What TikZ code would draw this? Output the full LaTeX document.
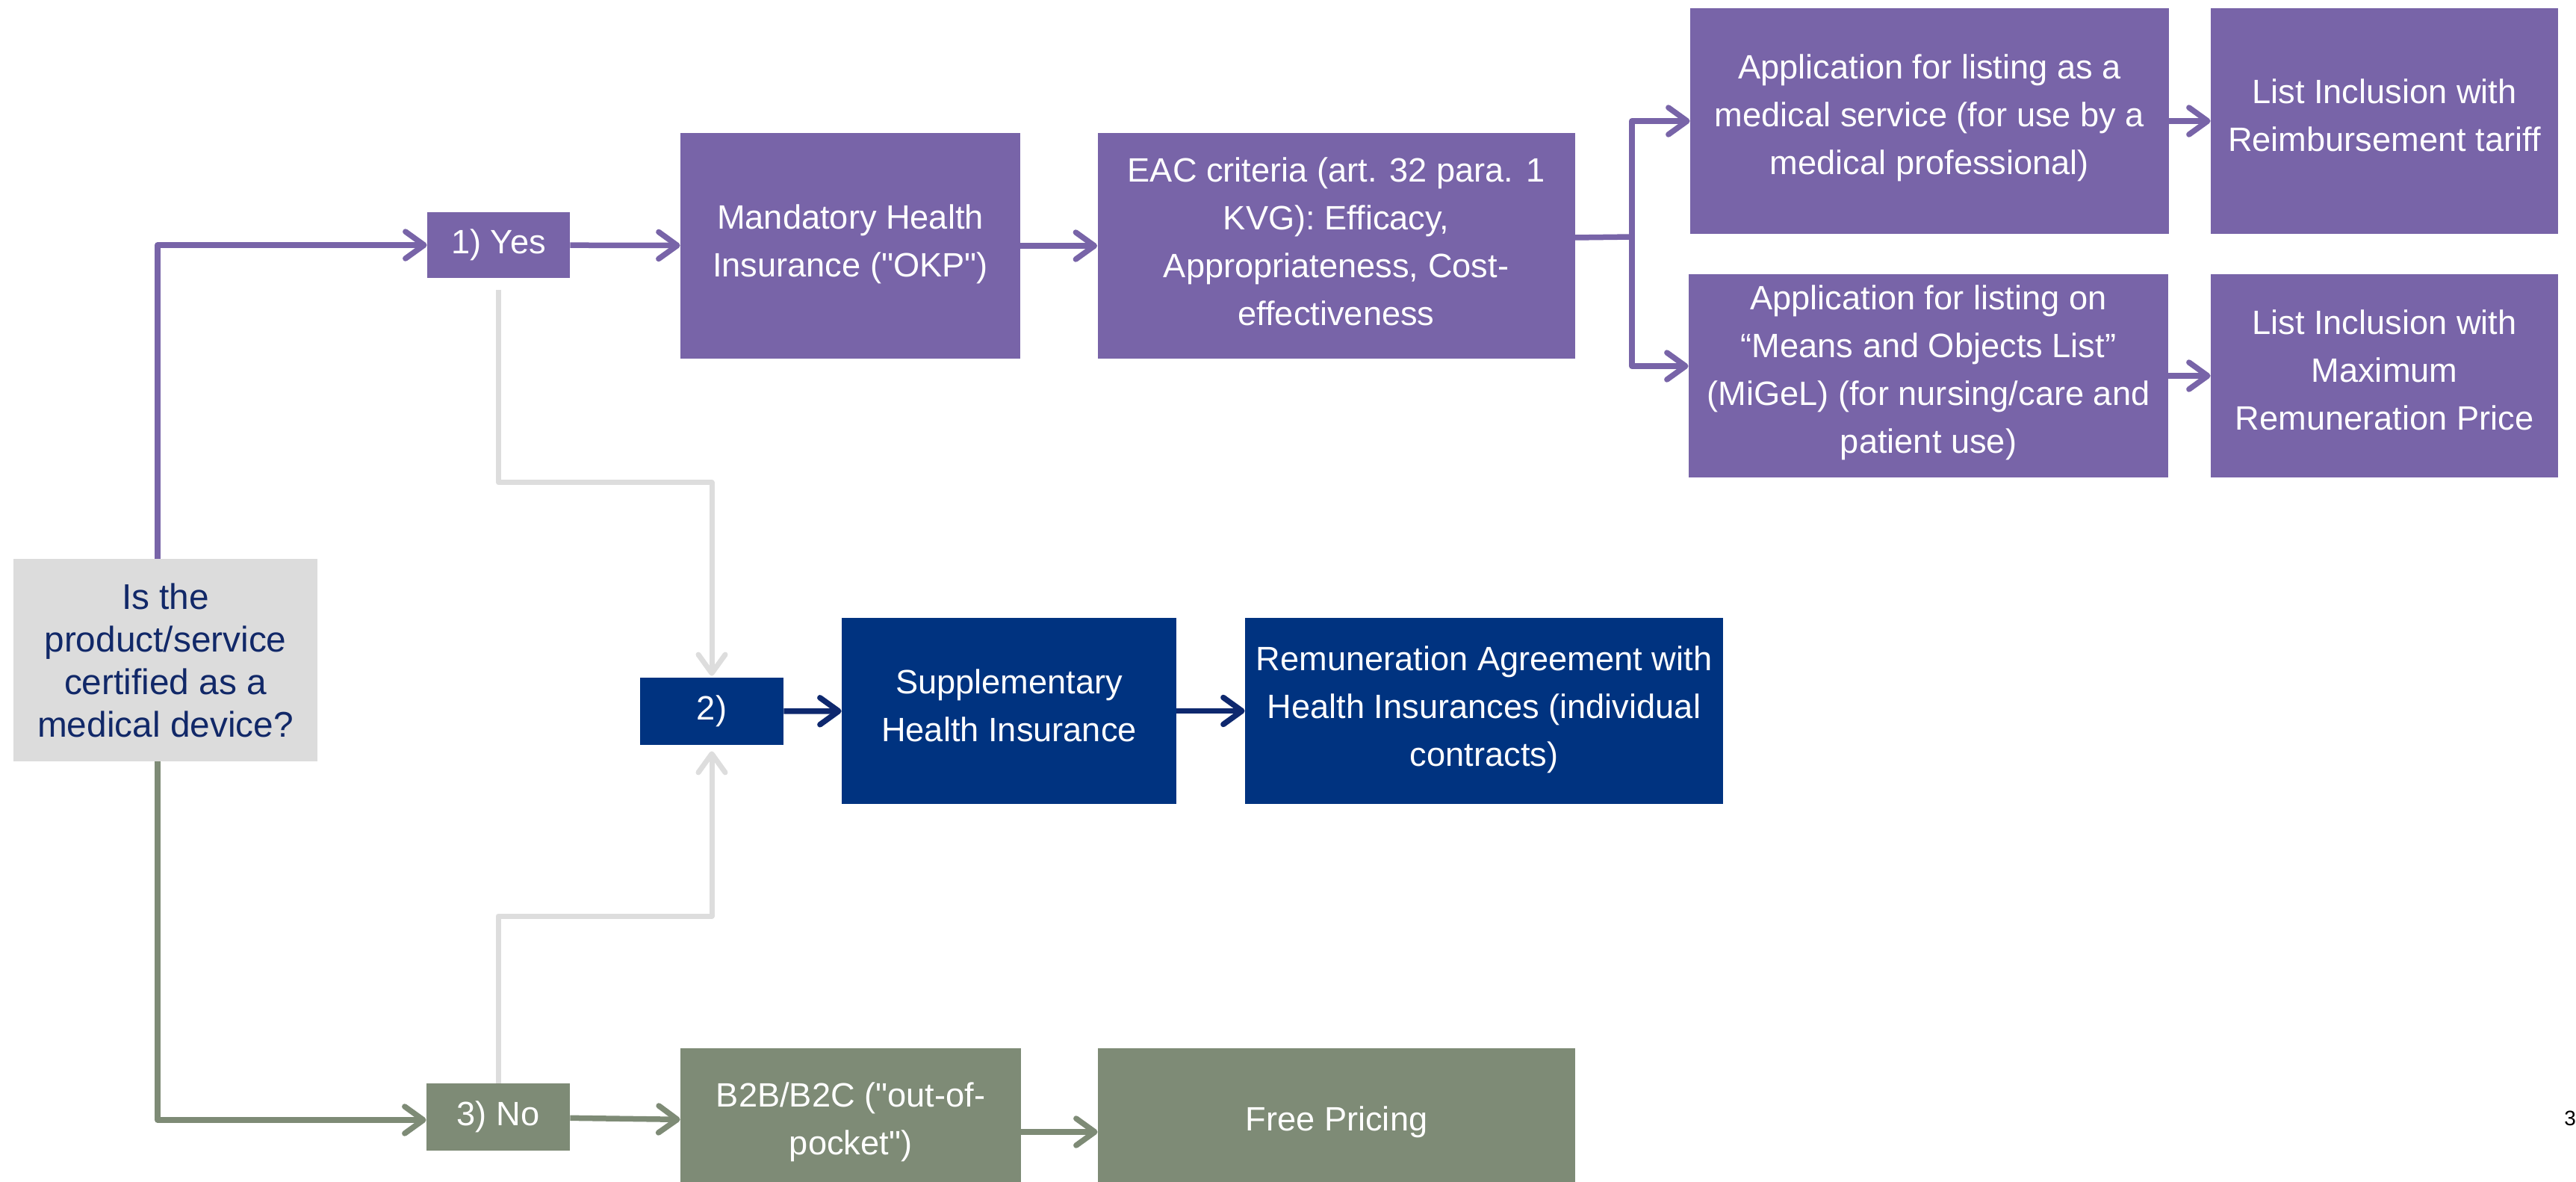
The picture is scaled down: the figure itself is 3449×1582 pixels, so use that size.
\documentclass[tikz,border=0pt]{standalone}
\usepackage{fontspec}
\setmainfont{Liberation Sans}[Ligatures=TeXOff]
\usetikzlibrary{arrows.meta}
\definecolor{cpurple}{RGB}{120,100,168}
\definecolor{cnavy}{RGB}{0,51,128}
\definecolor{cnavyline}{RGB}{14,40,110}
\definecolor{cgreen}{RGB}{126,139,118}
\definecolor{cgraybox}{RGB}{220,220,220}
\definecolor{cgrayline}{RGB}{221,221,221}
\definecolor{cqtext}{RGB}{17,40,104}
\tikzset{
  basebox/.style={rectangle, inner sep=0pt, align=center, text=white,
    font=\fontsize{22.6pt}{32pt}\selectfont},
  pbox/.style={basebox, fill=cpurple},
  nbox/.style={basebox, fill=cnavy},
  gbox/.style={basebox, fill=cgreen},
  btext/.style={inner sep=0pt, align=center, text=white,
    font=\fontsize{22.6pt}{32pt}\selectfont},
  qbox/.style={rectangle, inner sep=0pt, align=center, fill=cgraybox, text=cqtext,
    font=\fontsize{23.9pt}{28.5pt}\selectfont},
  conn/.style={line width=3.75pt, line join=round,
    -{Straight Barb[length=12.5pt,width=18pt,round]}},
  parr/.style={conn, draw=cpurple},
  narr/.style={conn, draw=cnavyline},
  garr/.style={conn, draw=cgreen},
  grarr/.style={conn, draw=cgrayline, line width=3.5pt},
}
\begin{document}
\begin{tikzpicture}[x=0.5pt,y=-0.5pt]
\useasboundingbox (0,0) rectangle (3449,1582);

\node[qbox, minimum width=203.5pt, minimum height=135.5pt] (Q) at (221.5,883.5)
  {Is the\\product/service\\certified as a\\medical device?};

\node[pbox, minimum width=95.5pt, minimum height=44pt] (Yes) at (667.5,328) {1) Yes};
\node[pbox, minimum width=227.5pt, minimum height=151pt] (Mand) at (1138.5,329) {};
\node[btext] (Mandt) at ([yshift=1pt]Mand.center) {Mandatory Health\\Insurance ("OKP")};
\node[pbox, minimum width=319.5pt, minimum height=151pt] (EAC) at (1789,329) {};
\node[btext] (EACt) at ([yshift=3pt]EAC.center)
  {EAC criteria (art. 32 para. 1\\KVG): Efficacy,\\Appropriateness, Cost-\\effectiveness};
\node[pbox, minimum width=320.5pt, minimum height=151pt] (App1) at (2583.5,162) {};
\node[btext] (App1t) at ([yshift=2pt]App1.center)
  {Application for listing as a\\medical service (for use by a\\medical professional)};
\node[pbox, minimum width=232.5pt, minimum height=151pt] (List1) at (3192.5,162) {};
\node[btext] (List1t) at ([yshift=4pt]List1.center) {List Inclusion with\\Reimbursement tariff};
\node[pbox, minimum width=321pt, minimum height=136pt] (App2) at (2582,503) {};
\node[btext] (App2t) at ([yshift=2pt]App2.center)
  {Application for listing on\\“Means and Objects List”\\(MiGeL) (for nursing/care and\\patient use)};
\node[pbox, minimum width=232.5pt, minimum height=136pt] (List2) at (3192.5,503) {};
\node[btext] (List2t) at ([yshift=4pt]List2.center) {List Inclusion with\\Maximum\\Remuneration Price};

\node[nbox, minimum width=96pt, minimum height=45pt] (Two) at (953,952) {2)};
\node[nbox, minimum width=224pt, minimum height=124.5pt] (Supp) at (1351,951.5) {};
\node[btext] (Suppt) at ([yshift=3.5pt]Supp.center) {Supplementary\\Health Insurance};
\node[nbox, minimum width=320pt, minimum height=124.5pt] (Rem) at (1987,951.5) {};
\node[btext] (Remt) at ([yshift=1pt]Rem.center)
  {Remuneration Agreement with\\Health Insurances (individual\\contracts)};

\node[gbox, minimum width=96pt, minimum height=45pt] (No) at (667,1495) {3) No};
\node[gbox, minimum width=228pt, minimum height=98.5pt] (B2B) at (1139,1501.5)
  {B2B/B2C ("out-of-\\pocket")};
\node[gbox, minimum width=319.5pt, minimum height=98.5pt] (Free) at (1789.5,1501.5)
  {Free Pricing};

\node[font=\fontsize{14pt}{16pt}\selectfont, text=black, inner sep=0pt] (pg) at (3441,1497) {3};

% coordinates for connector bends
\coordinate (qtop) at (211,748);
\coordinate (qbot) at (211,1019);
\coordinate (split) at (2185,317);
\coordinate (ytop) at (667.5,388);
\coordinate (ybend) at (667.5,646);
\coordinate (nbend) at (667,1226);
\coordinate (fy) at (0,1515);

% purple connectors
\draw[parr] (qtop) |- (Yes.west);
\draw[parr] (Yes) -- (Mand);
\draw[parr] (Mand) -- (EAC);
\draw[parr, -] ([yshift=5.5pt]EAC.east) -- (split);
\draw[parr] (split) |- (App1.west);
\draw[parr] (split) |- ([yshift=6.5pt]App2.west);
\draw[parr] (App1) -- (List1);
\draw[parr] (App2) -- (List2);

% green connectors
\draw[garr] (qbot) |- ([yshift=-2pt]No.west);
\draw[garr] (No) -- (B2B);
\draw[garr] (B2B.east |- fy) -- (Free.west |- fy);

% navy connectors
\draw[narr] (Two) -- (Supp);
\draw[narr] (Supp) -- (Rem);

% gray connectors
\draw[grarr] (ytop) -- (ybend) -| ([yshift=1pt]Two.north);
\draw[grarr] (No.north) -- (nbend) -| ([yshift=-4pt]Two.south);
\end{tikzpicture}
\end{document}
